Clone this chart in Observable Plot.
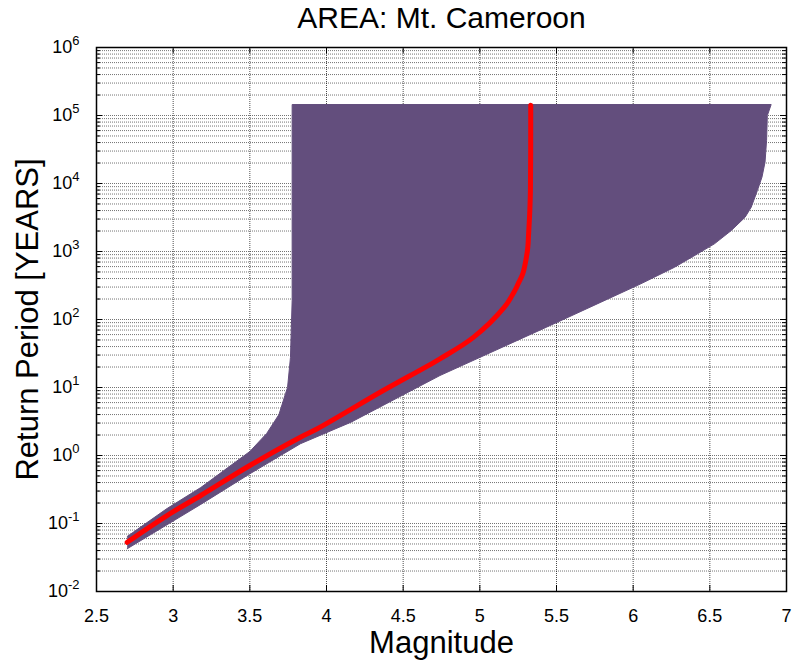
<!DOCTYPE html>
<html><head><meta charset="utf-8">
<script src="https://cdn.jsdelivr.net/npm/d3@7"></script>
<script src="https://cdn.jsdelivr.net/npm/@observablehq/plot@0.6"></script>
<style>body{margin:0;background:#fff}</style>
</head><body><div id="chart"></div>
<script>
const title = "AREA: Mt. Cameroon";
const xLabel = "Magnitude";
const yLabel = "Return Period [YEARS]";
const xTicks = [2.5, 3, 3.5, 4, 4.5, 5, 5.5, 6, 6.5, 7];
const yDecades = [-2, -1, 0, 1, 2, 3, 4, 5, 6];

// upper (left) edge of the uncertainty band
const upperMag = [2.70, 2.96, 3.18, 3.50, 3.61, 3.69, 3.733, 3.746, 3.765, 3.776, 3.776];
const upperT   = [0.0644, 0.166, 0.338, 1.146, 2.11, 4.0, 8.16, 10.0, 27.6, 190, 145000];
// lower (right) edge of the band, from top-right down
const lowerMag = [6.90, 6.875, 6.87, 6.86, 6.84, 6.81, 6.77, 6.73, 6.64, 6.53, 6.42, 6.27, 6.05, 5.79, 5.53, 4.74, 4.16, 3.83, 3.50, 3.18, 2.70];
const lowerT   = [145000, 100000, 42900, 20600, 12400, 7890, 4480, 3194, 2037, 1297, 925, 587, 335, 180, 96.6, 15.0, 3.09, 1.49, 0.538, 0.191, 0.0425];
// median curve
const medianMag = [2.70, 2.96, 3.18, 3.50, 3.83, 3.94, 4.37, 4.74, 4.96, 5.16, 5.21, 5.24, 5.25, 5.28, 5.30, 5.313, 5.318, 5.326, 5.330, 5.332];
const medianT   = [0.053, 0.131, 0.258, 0.713, 1.86, 2.47, 9.03, 26.4, 55, 152, 225, 299, 335, 470, 738, 1157, 1800, 4010, 7890, 142000];

const W = 793, H = 663;
const mt = 47, mb = 72, ml = 96, mr = 7;
const iw = W - ml - mr, ih = H - mt - mb;
const yMajor = yDecades.map(e => 10 ** e);
const yMinor = yDecades.slice(0, -1).flatMap(e => [2,3,4,5,6,7,8,9].map(k => k * 10 ** e));
const xGrid = xTicks.slice(1, -1);

const band = [
  ...upperMag.map((m, i) => ({m, t: upperT[i]})),
  ...lowerMag.map((m, i) => ({m, t: lowerT[i]}))
];
const median = medianMag.map((m, i) => ({m, t: medianT[i]}));

const font = "'Liberation Sans', Arial, Helvetica, sans-serif";
const gridV = {stroke: "#000", strokeWidth: 1, strokeDasharray: "1,1", strokeOpacity: 0.7};
const gridH = {stroke: "#000", strokeWidth: 1, strokeDasharray: "1,1", strokeOpacity: 0.55};

const plot = Plot.plot({
  width: W, height: H,
  marginTop: mt, marginBottom: mb, marginLeft: ml, marginRight: mr,
  style: {fontFamily: font, background: "#fff", color: "#000", overflow: "visible"},
  x: {domain: [2.5, 7]},
  y: {type: "log", domain: [1e-2, 1e6]},
  marks: [
    Plot.ruleX(xGrid, {x: d => d, ...gridV}),
    Plot.ruleY([...yMajor.slice(1, -1), ...yMinor], {y: d => d, ...gridH}),
    Plot.line(band, {x: "m", y: "t", fill: "#634e7d", stroke: "#634e7d", strokeWidth: 1, curve: "linear"}),
    Plot.line(median, {x: "m", y: "t", stroke: "#ff0000", strokeWidth: 5, strokeLinejoin: "round", curve: "catmull-rom"}),
    Plot.tickX(xGrid, {x: d => d, insetTop: ih - 6, stroke: "#000"}),
    Plot.tickX(xGrid, {x: d => d, insetBottom: ih - 6, stroke: "#000"}),
    Plot.tickY(yMajor, {y: d => d, insetRight: iw - 6, stroke: "#000"}),
    Plot.tickY(yMinor, {y: d => d, insetRight: iw - 4, stroke: "#000"}),
    Plot.tickY(yMajor, {y: d => d, insetLeft: iw - 6, stroke: "#000"}),
    Plot.tickY(yMinor, {y: d => d, insetLeft: iw - 4, stroke: "#000"}),
    Plot.frame({stroke: "#000", strokeWidth: 1.5}),
    Plot.axisX(xTicks, {tickSize: 0, tickPadding: 18, fontSize: 18, tickFormat: d => String(d), label: null}),
    Plot.axisY(yMajor, {tickSize: 0, tickPadding: 17, fontSize: 18, tickFormat: d => String(Math.round(Math.log10(d))), label: null}),
    Plot.text([title], {frameAnchor: "top", lineAnchor: "middle", textAnchor: "middle", dy: -29, fontSize: 30, text: d => d}),
    Plot.text([xLabel], {frameAnchor: "bottom", lineAnchor: "middle", textAnchor: "middle", dy: 52, fontSize: 31, text: d => d}),
    Plot.text([yLabel], {frameAnchor: "left", lineAnchor: "middle", textAnchor: "middle", dx: -68, rotate: -90, fontSize: 31, text: d => d})
  ]
});

d3.select(plot).selectAll('g[aria-label="y-axis tick label"] text').each(function () {
  const e = this.textContent;
  const t = d3.select(this);
  t.text(null);
  t.append("tspan").text("10");
  t.append("tspan").attr("dy", "-0.6em").attr("font-size", "0.72em").text(e);
});

document.getElementById("chart").appendChild(plot);
</script>
</body></html>
